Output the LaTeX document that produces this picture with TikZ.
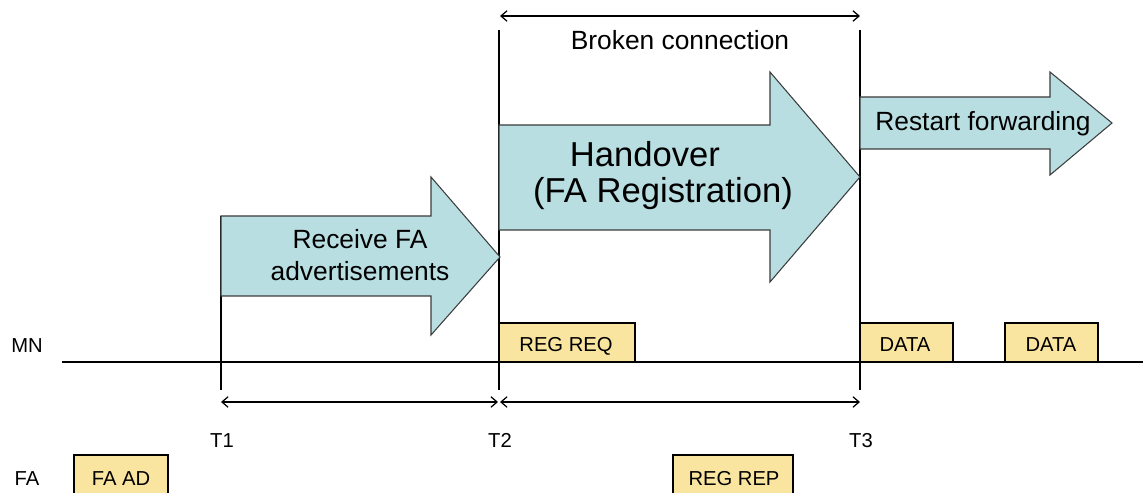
\documentclass[tikz,border=0pt]{standalone}
\usepackage{fontspec}
\setmainfont{Liberation Sans}
\usetikzlibrary{arrows.meta}
\definecolor{flowblue}{HTML}{B8DEE1}
\definecolor{msgyellow}{HTML}{F9E4A0}
\definecolor{edgegray}{HTML}{3C3C3C}

\begin{document}
\begin{tikzpicture}[x=0.02cm,y=-0.02cm,
  timeline/.style={line width=0.9pt},
  phase/.style={fill=flowblue, draw=edgegray, line width=0.6pt, line join=miter},
  msgbox/.style={fill=msgyellow, draw=black, line width=0.9pt},
  span/.style={line width=0.7pt, {Straight Barb[length=3.5pt,width=6pt]}-{Straight Barb[length=3.5pt,width=6pt]}},
  lbl/.style={font=\fontsize{11.5pt}{13pt}\selectfont, anchor=base, inner sep=0pt},
  big/.style={font=\fontsize{15pt}{18pt}\selectfont, anchor=base, inner sep=0pt},
  huge/.style={font=\fontsize{19.7pt}{23pt}\selectfont, anchor=base, inner sep=0pt}]
\clip (0,0) rectangle (1143,493);

% time instants
\coordinate (mnL) at (62,362);  \coordinate (mnR) at (1143,362);
\coordinate (t1a) at (221,216); \coordinate (t1b) at (221,390);
\coordinate (t2a) at (499,30);  \coordinate (t2b) at (499,390);
\coordinate (t3a) at (860,30);  \coordinate (t3b) at (860,390);

% MN time line and instant markers
\draw[timeline] (mnL) -- (mnR);
\draw[timeline] (t1a) -- (t1b);
\draw[timeline] (t2a) -- (t2b);
\draw[timeline] (t3a) -- (t3b);

% phase arrows
\draw[phase] (221,216) -- (431,216) -- (431,177) -- (500,257) -- (431,335) -- (431,296) -- (221,296) -- cycle;
\draw[phase] (499,125) -- (770,125) -- (770,72) -- (860,177) -- (770,282) -- (770,230) -- (499,230) -- cycle;
\draw[phase] (860,97) -- (1050,97) -- (1050,72) -- (1112,123) -- (1050,175) -- (1050,149) -- (860,149) -- cycle;

\node[big] (recv1) at (360,249) {Receive FA};
\node[big] (recv2) at (360,281) {advertisements};
\node[huge] (hand1) at (645,167) {Handover};
\node[huge] (hand2) at (663,203) {(FA Registration)};
\node[big] (restart) at (983,131) {Restart forwarding};

% broken connection span
\coordinate (bcL) at (500,16); \coordinate (bcR) at (860,16);
\draw[span] (bcL) -- (bcR);
\node[big] (broken) at (680,50) {Broken connection};

% interval spans
\coordinate (s1) at (221,402); \coordinate (s2a) at (498,402);
\coordinate (s2b) at (500,402); \coordinate (s3) at (860,402);
\draw[span] (s1) -- (s2a);
\draw[span] (s2b) -- (s3);

% messages on the MN line
\draw[msgbox] (499,323) rectangle (635,362);
\draw[msgbox] (860,323) rectangle (953,362);
\draw[msgbox] (1005,323) rectangle (1098,362);
\node[lbl] (regreq) at (566,352) {REG REQ};
\node[lbl] (data1) at (905,352) {DATA};
\node[lbl] (data2) at (1051,352) {DATA};

% messages from the FA
\draw[msgbox] (74,455) rectangle (168,510);
\draw[msgbox] (673,455) rectangle (793,510);
\node[lbl] (faad) at (121,485) {FA AD};
\node[lbl] (regrep) at (734,485) {REG REP};

% labels
\node[lbl] (mn) at (27,353) {MN};
\node[lbl] (fa) at (27,485) {FA};
\node[lbl] (T1) at (222,447) {T1};
\node[lbl] (T2) at (500,447) {T2};
\node[lbl] (T3) at (861,447) {T3};
\end{tikzpicture}
\end{document}
